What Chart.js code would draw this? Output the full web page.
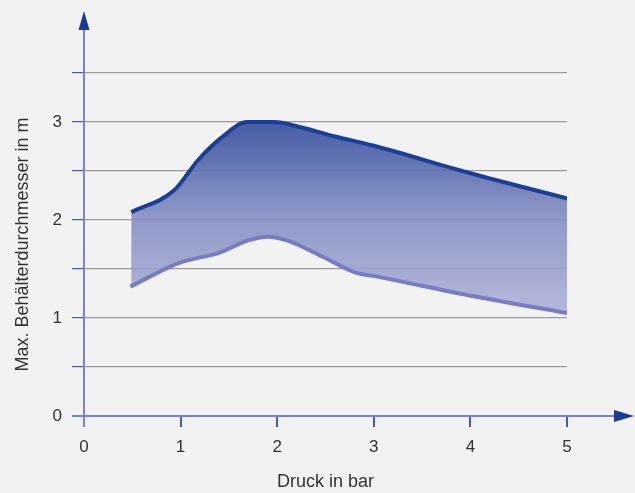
<!DOCTYPE html>
<html>
<head>
<meta charset="utf-8">
<script src="https://cdn.jsdelivr.net/npm/chart.js@4"></script>
<style>
  html, body { margin: 0; padding: 0; background: #f2f2f2; }
  #wrap { width: 635px; height: 493px; position: relative; }
</style>
</head>
<body>
<div id="wrap"><canvas id="chart"></canvas></div>
<script>
// Druck in bar (x) and max. Behälterdurchmesser in m (y)
const upperX = [0.49, 0.93, 1.18, 1.41, 1.69, 1.98, 2.15, 2.61, 2.99, 3.99, 5.0];
const upperY = [2.08, 2.30, 2.61, 2.83, 3.00, 3.00, 2.97, 2.85, 2.76, 2.48, 2.22];
const lowerX = [0.48, 0.98, 1.41, 1.69, 1.90, 2.11, 2.48, 2.82, 2.99, 3.99, 5.0];
const lowerY = [1.32, 1.56, 1.67, 1.79, 1.83, 1.79, 1.62, 1.46, 1.43, 1.23, 1.05];
const xTicks = [0, 1, 2, 3, 4, 5];
const yTickLabels = [0, 1, 2, 3];

const toPoints = (xs, ys) => xs.map((x, i) => ({ x: x, y: ys[i] }));

const axisBlue = '#7a86c2';
const arrowBlue = '#1f3a93';
const tickBlue = '#4a5aa8';
const textColor = '#333333';
const font = { family: 'Liberation Sans, Arial, sans-serif', size: 17 };
const titleFont = { family: 'Liberation Sans, Arial, sans-serif', size: 18 };

// vertical gradient fill, light at the bottom, dark at the top
function areaFill(context) {
    const chart = context.chart;
    const area = chart.chartArea;
    if (!area) return 'rgba(130,140,194,0.88)';
    const ys = chart.scales.y;
    const g = chart.ctx.createLinearGradient(0, ys.getPixelForValue(1.0), 0, ys.getPixelForValue(3.0));
    g.addColorStop(0, 'rgba(173,178,216,0.88)');
    g.addColorStop(0.5, 'rgba(130,140,194,0.88)');
    g.addColorStop(1, 'rgba(51,75,156,0.9)');
    return g;
}

// axis lines with arrow heads
const arrowAxes = {
    id: 'arrowAxes',
    afterDatasetsDraw(chart) {
        const ctx = chart.ctx;
        const x0 = chart.scales.x.getPixelForValue(0);
        const y0 = chart.scales.y.getPixelForValue(0);
        ctx.save();
        ctx.strokeStyle = axisBlue;
        ctx.lineWidth = 2;
        ctx.beginPath();
        ctx.moveTo(x0, y0 + 11);
        ctx.lineTo(x0, 28);
        ctx.moveTo(x0 - 12, y0);
        ctx.lineTo(616, y0);
        ctx.stroke();
        ctx.fillStyle = arrowBlue;
        ctx.beginPath();
        ctx.moveTo(x0, 11);
        ctx.lineTo(x0 + 5.5, 30);
        ctx.lineTo(x0 - 5.5, 30);
        ctx.closePath();
        ctx.fill();
        ctx.beginPath();
        ctx.moveTo(634, y0);
        ctx.lineTo(614, y0 - 6);
        ctx.lineTo(614, y0 + 6);
        ctx.closePath();
        ctx.fill();
        ctx.restore();
    }
};

new Chart(document.getElementById('chart'), {
    type: 'line',
    data: {
        datasets: [{
            data: toPoints(upperX, upperY),
            borderColor: '#1d3f91',
            borderWidth: 4,
            fill: false,
            pointRadius: 0,
            cubicInterpolationMode: 'monotone'
        }, {
            // lower curve carries the band fill so its own line is drawn on top of it
            data: toPoints(lowerX, lowerY),
            borderColor: '#777dc0',
            borderWidth: 4,
            backgroundColor: areaFill,
            fill: '-1',
            pointRadius: 0,
            cubicInterpolationMode: 'monotone'
        }]
    },
    options: {
        responsive: true,
        maintainAspectRatio: false,
        animation: false,
        layout: { padding: { top: 73, right: 68, left: 0, bottom: 0 } },
        plugins: { legend: { display: false }, tooltip: { enabled: false } },
        scales: {
            x: {
                type: 'linear',
                min: 0,
                max: 5,
                afterFit: s => { s.height = 77; },
                afterBuildTicks: s => { s.ticks = xTicks.map(v => ({ value: v })); },
                border: { display: false },
                grid: {
                    drawOnChartArea: false,
                    tickLength: 11,
                    lineWidth: 2,
                    tickColor: tickBlue
                },
                ticks: { color: textColor, font: font, padding: 10 },
                title: {
                    display: true,
                    text: 'Druck in bar',
                    color: textColor,
                    font: titleFont,
                    padding: { top: 0, bottom: 0 }
                }
            },
            y: {
                min: 0,
                max: 3.5,
                afterFit: s => { s.width = 84; },
                border: { display: false },
                grid: {
                    color: c => c.tick && c.tick.value === 0 ? 'rgba(0,0,0,0)' : '#9a9a9a',
                    tickColor: tickBlue,
                    tickLength: 12,
                    lineWidth: c => c.tick && c.tick.value === 0 ? 0 : 1.2
                },
                ticks: {
                    stepSize: 0.5,
                    color: textColor,
                    font: font,
                    padding: 10,
                    callback: v => yTickLabels.includes(v) ? String(v) : ''
                },
                title: {
                    display: true,
                    text: 'Max. Behälterdurchmesser in m',
                    color: textColor,
                    font: titleFont,
                    padding: { top: 12, bottom: 0 }
                }
            }
        }
    },
    plugins: [arrowAxes]
});
</script>
</body>
</html>
